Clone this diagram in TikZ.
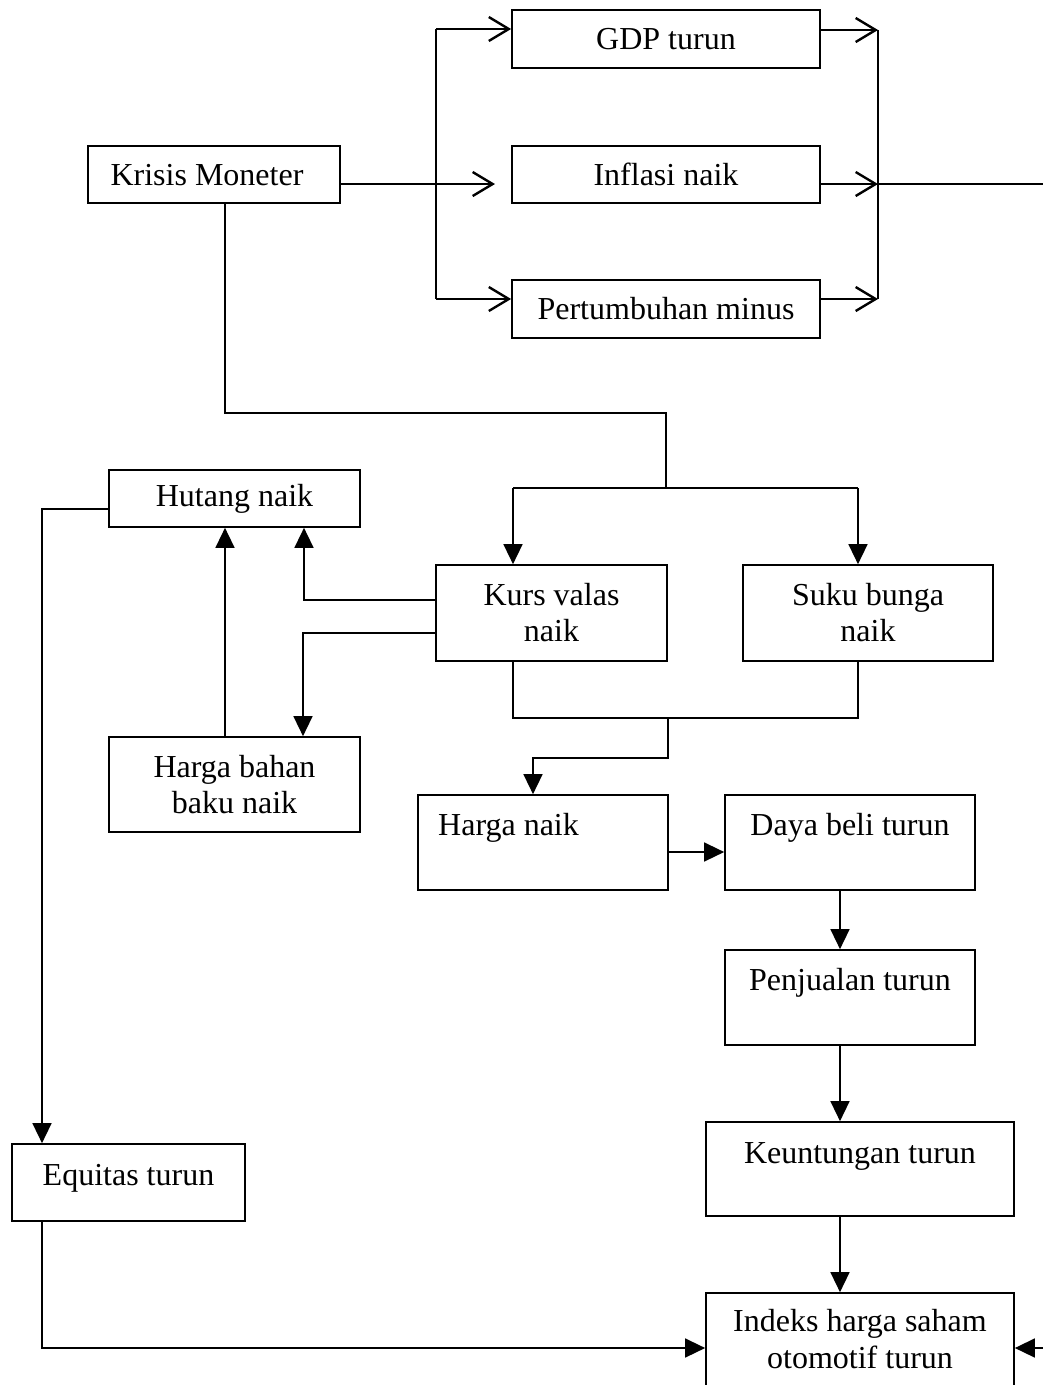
\documentclass[tikz,border=0pt]{standalone}
\usepackage{fontspec}
\setmainfont{Liberation Serif}
\usetikzlibrary{arrows.meta,calc}
\begin{document}
\begin{tikzpicture}[x=1pt,y=-1pt,
 box/.style={draw,line width=1.7pt,inner sep=0pt,align=center,font=\fontsize{32}{36}\selectfont},
 txt/.style={inner sep=0pt,align=center,font=\fontsize{32}{36}\selectfont},
 ln/.style={line width=1.5pt},
 oarr/.style={ln,-{Straight Barb[length=20pt,width=24pt,line width=2.4pt]}},
 farr/.style={ln,-{Triangle[length=20pt,width=19pt]}}]
\clip (0,0) rectangle (1043,1385);
\fill[white] (0,0) rectangle (1043,1385);
% top group
\node[box,minimum width=252pt,minimum height=57pt] (km) at (214,174.5) {};
\node[txt,anchor=base] (kmt) at (207,185) {Krisis Moneter};
\node[box,minimum width=308pt,minimum height=58pt] (gdp) at (666,39) {GDP turun};
\node[box,minimum width=308pt,minimum height=57pt] (inf) at (666,174.5) {Inflasi naik};
\node[box,minimum width=308pt,minimum height=58pt] (pm) at (666,309) {Pertumbuhan minus};
% middle
\node[box,minimum width=251pt,minimum height=57pt] (hut) at (234.5,498.5) {Hutang naik};
\node[box,minimum width=231pt,minimum height=96pt] (kurs) at (551.5,613) {Kurs valas\\naik};
\node[box,minimum width=250pt,minimum height=96pt] (suku) at (868,613) {Suku bunga\\naik};
\node[box,minimum width=251pt,minimum height=95pt] (hbb) at (234.5,784.5) {Harga bahan\\baku naik};
\node[box,minimum width=250pt,minimum height=95pt] (hn) at (543,842.5) {};
\node[txt,anchor=base west] (hnt) at (438,835) {Harga naik};
\node[box,minimum width=250pt,minimum height=95pt] (db) at (850,842.5) {};
\node[txt,anchor=base] (dbt) at (850,835) {Daya beli turun};
\node[box,minimum width=250pt,minimum height=95pt] (pj) at (850,997.5) {};
\node[txt,anchor=base] (pjt) at (850,990) {Penjualan turun};
\node[box,minimum width=308pt,minimum height=94pt] (ku) at (860,1169) {};
\node[txt,anchor=base] (kut) at (860,1163) {Keuntungan turun};
\node[box,minimum width=308pt,minimum height=120pt] (idx) at (860,1353) {};
\node[txt,anchor=base] (idxt1) at (860,1331) {Indeks harga saham};
\node[txt,anchor=base] (idxt2) at (860,1368) {otomotif turun};
\node[box,minimum width=233pt,minimum height=77pt] (eq) at (128.5,1182.5) {};
\node[txt,anchor=base] (eqt) at (128.5,1185) {Equitas turun};
% top connectors
\coordinate (t1) at (436,29);
\coordinate (t3) at (436,299);
\coordinate (mid) at (495,184);
\draw[ln] (t1) -- (t3);
\draw[oarr] (t1) -- (gdp.west |- t1);
\draw[oarr] (t3) -- (pm.west |- t3);
\draw[oarr] (km.east |- mid) -- (mid);
\coordinate (r1) at (878,30);
\coordinate (r2) at (878,184);
\coordinate (r3) at (878,299);
\coordinate (out1) at (1043,184);
\draw[ln] (r1) -- (r3);
\draw[oarr] (gdp.east |- r1) -- (r1);
\draw[oarr] (inf.east |- r2) -- (r2);
\draw[oarr] (pm.east |- r3) -- (r3);
\draw[ln] (r2) -- (out1);
% krisis down
\coordinate (k1) at (225,413);
\coordinate (k2) at (666,413);
\coordinate (k3) at (666,488);
\coordinate (kl) at (513,488);
\coordinate (kr) at (858,488);
\draw[ln] (km.south -| k1) -- (k1) -- (k2) -- (k3);
\draw[ln] (kl) -- (kr);
\draw[farr] (kl) -- (kurs.north -| kl);
\draw[farr] (kr) -- (suku.north -| kr);
% kurs left
\coordinate (h1) at (304,600);
\coordinate (h2) at (303,633);
\coordinate (h3) at (225,0);
\draw[farr] (kurs.west |- h1) -- (h1) -- (hut.south -| h1);
\draw[farr] (kurs.west |- h2) -- (h2) -- (hbb.north -| h2);
\draw[farr] (hbb.north -| h3) -- (hut.south -| h3);
% hutang to equitas to indeks
\coordinate (e1) at (42,509);
\coordinate (e2) at (42,1348);
\draw[farr] (hut.west |- e1) -- (e1) -- (eq.north -| e1);
\draw[farr] (eq.south -| e2) -- (e2) -- (idx.west |- e2);
% kurs / suku bottom
\coordinate (b1) at (513,718);
\coordinate (b2) at (858,718);
\coordinate (b3) at (668,718);
\coordinate (b4) at (668,758);
\coordinate (b5) at (533,758);
\draw[ln] (kurs.south -| b1) -- (b1) -- (b2) -- (suku.south -| b2);
\draw[farr] (b3) -- (b4) -- (b5) -- (hn.north -| b5);
% right chain
\coordinate (d1) at (0,852);
\coordinate (c1) at (840,0);
\draw[farr] (hn.east |- d1) -- (db.west |- d1);
\draw[farr] (db.south -| c1) -- (pj.north -| c1);
\draw[farr] (pj.south -| c1) -- (ku.north -| c1);
\draw[farr] (ku.south -| c1) -- (idx.north -| c1);
\coordinate (rin) at (1043,1348);
\draw[farr] (rin) -- (idx.east |- rin);
\end{tikzpicture}
\end{document}
